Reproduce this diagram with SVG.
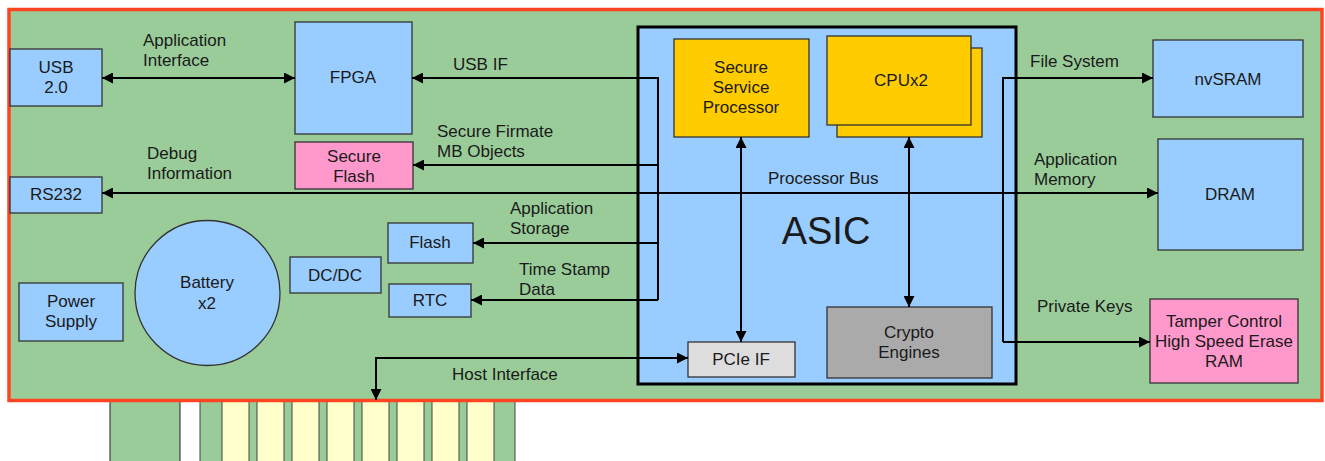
<svg xmlns="http://www.w3.org/2000/svg" width="1325" height="461" viewBox="0 0 1325 461">
<defs>
<style>
text{font-family:"Liberation Sans",Arial,sans-serif;font-size:17px;fill:#1a1a1a}
.c{text-anchor:middle}
.blue{fill:#99CCFF;stroke:#333;stroke-width:1.3}
.pink{fill:#FF99CC;stroke:#333;stroke-width:1.3}
.gold{fill:#FFCC00;stroke:#333;stroke-width:1.3}
.lg{fill:#DDDDDD;stroke:#333;stroke-width:1.3}
.dg{fill:#AAAAAA;stroke:#333;stroke-width:1.3}
.ln{fill:none;stroke:#000;stroke-width:2}
.finger{fill:#FFFFCC;stroke:#444;stroke-width:1}
</style>
<marker id="ah" viewBox="0 0 10 10" refX="10" refY="5" markerWidth="11" markerHeight="11" orient="auto-start-reverse" markerUnits="userSpaceOnUse"><path d="M0,0 L10,5 L0,10 z" fill="#000"/></marker>
</defs>
<rect width="1325" height="461" fill="#fff"/>
<g id="edge-connector">
<rect x="110" y="401" width="70" height="62" fill="#99CC99" stroke="#222" stroke-width="1"/>
<rect x="200" y="401" width="315" height="62" fill="#99CC99" stroke="#444" stroke-width="1"/>
<rect class="finger" x="222" y="401" width="27" height="62"/>
<rect class="finger" x="257" y="401" width="27" height="62"/>
<rect class="finger" x="292" y="401" width="27" height="62"/>
<rect class="finger" x="327" y="401" width="27" height="62"/>
<rect class="finger" x="362" y="401" width="27" height="62"/>
<rect class="finger" x="397" y="401" width="27" height="62"/>
<rect class="finger" x="432" y="401" width="27" height="62"/>
<rect class="finger" x="467" y="401" width="27" height="62"/>
</g>
<g id="board">
<rect x="9" y="9.5" width="1313" height="391" fill="#99CC99" stroke="#FF4422" stroke-width="3.5"/>
</g>
<g id="asic">
<rect x="638" y="27" width="378" height="357" fill="#99CCFF" stroke="#000" stroke-width="3"/>
<text x="826" y="244" class="c" style="font-size:38px">ASIC</text>
</g>
<g id="usb"><rect class="blue" x="10" y="49" width="92" height="57"/><text x="56" y="73" class="c">USB</text><text x="56" y="93" class="c">2.0</text></g>
<g id="fpga"><rect class="blue" x="295" y="22" width="117" height="112"/><text x="353" y="83" class="c">FPGA</text></g>
<g id="secure-flash"><rect class="pink" x="295" y="142" width="118" height="47"/><text x="354" y="162" class="c">Secure</text><text x="354" y="182" class="c">Flash</text></g>
<g id="rs232"><rect class="blue" x="10" y="177" width="92" height="36"/><text x="56" y="200" class="c">RS232</text></g>
<g id="power-supply"><rect class="blue" x="19" y="283" width="104" height="58"/><text x="71" y="307" class="c">Power</text><text x="71" y="327" class="c">Supply</text></g>
<g id="battery"><circle class="blue" cx="207.5" cy="293" r="72.5"/><text x="207" y="288" class="c">Battery</text><text x="207" y="309" class="c">x2</text></g>
<g id="dcdc"><rect class="blue" x="290" y="257" width="91" height="36"/><text x="335" y="281" class="c">DC/DC</text></g>
<g id="flash"><rect class="blue" x="388" y="223" width="85" height="40"/><text x="430" y="248" class="c">Flash</text></g>
<g id="rtc"><rect class="blue" x="389" y="284" width="82" height="33"/><text x="430" y="306" class="c">RTC</text></g>
<g id="ssp"><rect class="gold" x="674" y="39" width="135" height="98"/><text x="741" y="73" class="c">Secure</text><text x="741" y="93" class="c">Service</text><text x="741" y="113" class="c">Processor</text></g>
<g id="cpu"><rect class="gold" x="837" y="48" width="145" height="89"/><rect class="gold" x="827" y="36" width="144" height="89"/><text x="901" y="86" class="c">CPUx2</text></g>
<g id="pcie"><rect class="lg" x="688" y="342" width="107" height="35"/><text x="741" y="365" class="c">PCIe IF</text></g>
<g id="crypto"><rect class="dg" x="827" y="307" width="165" height="71"/><text x="909" y="338" class="c">Crypto</text><text x="909" y="358" class="c">Engines</text></g>
<g id="nvsram"><rect class="blue" x="1153" y="40" width="150" height="77"/><text x="1228" y="85" class="c">nvSRAM</text></g>
<g id="dram"><rect class="blue" x="1158" y="139" width="145" height="111"/><text x="1230" y="200" class="c">DRAM</text></g>
<g id="tamper"><rect class="pink" x="1150" y="299" width="148" height="84"/><text x="1224" y="327" class="c">Tamper Control</text><text x="1224" y="347" class="c">High Speed Erase</text><text x="1224" y="367" class="c">RAM</text></g>
<g id="connectors">
<path class="ln" d="M102,78 H295" stroke-width="3" marker-start="url(#ah)" marker-end="url(#ah)"/>
<path class="ln" d="M658,300 V78 H412" marker-end="url(#ah)"/>
<path class="ln" d="M658,165 H413" marker-end="url(#ah)"/>
<path class="ln" d="M658,243 H473" marker-end="url(#ah)"/>
<path class="ln" d="M658,300 H471" marker-end="url(#ah)"/>
<path class="ln" d="M102,193 H1158" marker-start="url(#ah)" marker-end="url(#ah)"/>
<path class="ln" d="M741,137 V342" marker-start="url(#ah)" marker-end="url(#ah)"/>
<path class="ln" d="M909,137 V307" marker-start="url(#ah)" marker-end="url(#ah)"/>
<path class="ln" d="M1003,342 V78 H1153" marker-end="url(#ah)"/>
<path class="ln" d="M1003,342 H1150" marker-end="url(#ah)"/>
<path class="ln" d="M376,400 V358 H688" marker-start="url(#ah)" marker-end="url(#ah)"/>
</g>
<g id="labels">
<text x="143" y="46">Application</text><text x="143" y="66">Interface</text>
<text x="147" y="159">Debug</text><text x="147" y="179">Information</text>
<text x="453" y="70">USB IF</text>
<text x="437" y="137">Secure Firmate</text><text x="437" y="157">MB Objects</text>
<text x="510" y="214">Application</text><text x="510" y="234">Storage</text>
<text x="519" y="275">Time Stamp</text><text x="519" y="295">Data</text>
<text x="452" y="380">Host Interface</text>
<text x="768" y="184">Processor Bus</text>
<text x="1030" y="67">File System</text>
<text x="1034" y="165">Application</text><text x="1034" y="185">Memory</text>
<text x="1037" y="312">Private Keys</text>
</g>
</svg>
